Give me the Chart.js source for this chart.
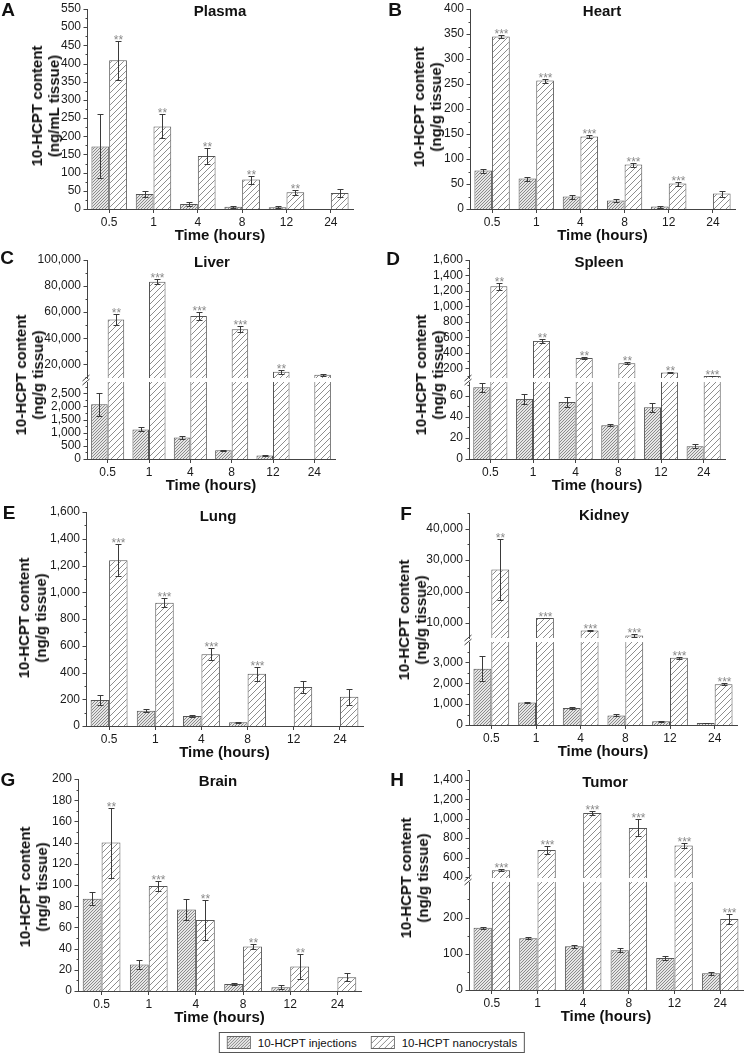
<!DOCTYPE html>
<html>
<head>
<meta charset="utf-8">
<script src="https://cdn.jsdelivr.net/npm/chart.js@4.4.1/dist/chart.umd.min.js"></script>
<style>
  html, body { margin: 0; padding: 0; background: #fff; }
  #fig { position: relative; width: 744px; height: 1057px; overflow: hidden;
         font-family: 'Liberation Sans', Arial, sans-serif; color: #111; }
  #fig canvas { position: absolute; }
  .letter { position: absolute; font-weight: bold; font-size: 19px; line-height: 1;
            transform: translate(-50%, -50%); }
  .ptitle { position: absolute; font-weight: bold; font-size: 15px; line-height: 1;
            white-space: nowrap; transform: translate(-50%, -50%); }
  .ytitle { position: absolute; font-weight: bold; font-size: 15px; line-height: 17px;
            text-align: center; white-space: nowrap;
            transform: translate(-50%, -50%) rotate(-90deg); }
  #legend { position: absolute; left: 372px; top: 1032px; transform: translateX(-50%);
            border: 1px solid #555; padding: 3px 7px; display: flex; align-items: center;
            font-size: 11.5px; white-space: nowrap; }
  #legend canvas { position: static; border: 1px solid #666; margin-right: 7px; }
  #legend .gap { width: 14px; }
</style>
</head>
<body>
<div id="fig">
  <div id="legend">
    <canvas id="sw1" width="22" height="11"></canvas>10-HCPT injections
    <span class="gap"></span>
    <canvas id="sw2" width="22" height="11"></canvas>10-HCPT nanocrystals
  </div>
</div>
<script>
const hours = ['0.5', '1', '4', '8', '12', '24'];

// A - plasma
const plasmaInj = [172, 41, 14, 6, 4.5, null];
const plasmaInjErr = [88, 8, 5, 2, 3, null];
const plasmaNano = [409, 227, 146, 81, 46, 44];
const plasmaNanoErr = [53, 33, 21, 11, 7, 11];
const plasmaStars = ['**', '**', '**', '**', '**', ''];

// B - heart
const heartInj = [77, 61, 25, 17, 5, null];
const heartInjErr = [4, 4, 4, 3, 2, null];
const heartNano = [345, 257, 145, 89, 51, 31];
const heartNanoErr = [3, 4, 3, 4, 4, 6];
const heartStars = ['***', '***', '***', '***', '***', ''];

// C - liver
const liverInj = [2080, 1125, 820, 335, 135, null];
const liverInjErr = [425, 75, 55, 25, 15, null];
const liverNano = [54400, 83300, 57000, 46800, 14300, 12000];
const liverNanoErr = [4300, 1800, 3100, 2300, 1700, 800];
const liverStars = ['**', '***', '***', '***', '**', ''];

// D - spleen
const spleenInj = [68, 57, 54, 32, 49, 12];
const spleenInjErr = [4.5, 4.5, 5, 1, 4, 2];
const spleenNano = [1260, 555, 333, 268, 148, 102];
const spleenNanoErr = [45, 25, 12, 12, 5, 4];
const spleenStars = ['**', '**', '**', '**', '**', '***'];

// E - lung
const lungInj = [195, 114, 75, 28, null, null];
const lungInjErr = [37, 13, 5, 5, null, null];
const lungNano = [1240, 922, 537, 390, 292, 218];
const lungNanoErr = [120, 32, 45, 50, 45, 58];
const lungStars = ['***', '***', '***', '***', '', ''];

// F - kidney
const kidneyInj = [2700, 1080, 820, 460, 180, 90];
const kidneyInjErr = [600, 40, 40, 50, 15, 10];
const kidneyNano = [27000, 11600, 7600, 6000, 3220, 1960];
const kidneyNanoErr = [9800, 150, 250, 600, 40, 60];
const kidneyStars = ['**', '***', '***', '***', '***', '***'];

// G - brain
const brainInj = [87, 25, 77, 6.6, 3.5, null];
const brainInjErr = [6, 4, 10, 1, 2, null];
const brainNano = [140, 99, 67, 42, 23, 13];
const brainNanoErr = [33, 4.5, 19, 2, 12, 4];
const brainStars = ['**', '***', '**', '**', '**', ''];

// H - tumor
const tumorInj = [172, 143, 121, 110, 88, 46];
const tumorInjErr = [3, 3, 4, 6, 6, 4];
const tumorNano = [470, 678, 1057, 905, 725, 196];
const tumorNanoErr = [8, 38, 17, 88, 25, 15];
const tumorStars = ['***', '***', '***', '***', '***', '***'];

const axisColor = '#444';
const fig = document.getElementById('fig');

Chart.defaults.font.family = "'Liberation Sans', Arial, sans-serif";
Chart.defaults.color = '#1a1a1a';

function hatch(size, bg, fg) {
  const c = document.createElement('canvas');
  c.width = c.height = size;
  const g = c.getContext('2d');
  g.fillStyle = bg;
  g.fillRect(0, 0, size, size);
  g.strokeStyle = fg;
  g.lineWidth = 1;
  g.beginPath();
  g.moveTo(0, size); g.lineTo(size, 0);
  g.moveTo(-size, size); g.lineTo(size, -size);
  g.moveTo(0, 2 * size); g.lineTo(2 * size, 0);
  g.stroke();
  return g.createPattern(c, 'repeat');
}
const injFill = hatch(3, '#e6e6e6', '#8a8a8a');
const nanoFill = hatch(6, '#ffffff', '#8e8e8e');

for (const [id, fill] of [['sw1', injFill], ['sw2', nanoFill]]) {
  const c = document.getElementById(id), g = c.getContext('2d');
  g.fillStyle = fill;
  g.fillRect(0, 0, c.width, c.height);
}

// error bars, significance stars, y ticks and axis-break marks
const barExtras = {
  id: 'barExtras',
  afterDatasetsDraw(chart, args, opts) {
    const ctx = chart.ctx, y = chart.scales.y, area = chart.chartArea;
    ctx.save();
    chart.data.datasets.forEach((ds, i) => {
      const meta = chart.getDatasetMeta(i);
      ds.data.forEach((v, j) => {
        if (v == null || v < y.min || v > y.max) return;
        const e = ds.errors[j] || 0;
        const x = Math.round(meta.data[j].x) + 0.5;
        const yHi = Math.round(Math.max(y.getPixelForValue(v + e), area.top)) + 0.5;
        const yLo = Math.round(Math.min(y.getPixelForValue(v - e), area.bottom)) + 0.5;
        ctx.strokeStyle = '#3a3a3a';
        ctx.lineWidth = 1;
        ctx.beginPath();
        ctx.moveTo(x, yHi); ctx.lineTo(x, yLo);
        ctx.moveTo(x - 3, yHi); ctx.lineTo(x + 3, yHi);
        ctx.moveTo(x - 3, yLo); ctx.lineTo(x + 3, yLo);
        ctx.stroke();
        if (ds.stars && ds.stars[j]) {
          ctx.fillStyle = '#8a8a8a';
          ctx.font = "12px 'Liberation Sans', Arial, sans-serif";
          ctx.textAlign = 'center';
          ctx.textBaseline = 'alphabetic';
          ctx.fillText(ds.stars[j], x, yHi + 2);
        }
      });
    });
    ctx.restore();
  },
  afterDraw(chart, args, opts) {
    const ctx = chart.ctx, y = chart.scales.y;
    const x0 = chart.chartArea.left + 0.5;
    ctx.save();
    ctx.strokeStyle = axisColor;
    ctx.lineWidth = 1;
    ctx.beginPath();
    y.ticks.forEach(t => {
      const len = t.value % opts.major === 0 ? 4 : 2;
      const py = Math.round(y.getPixelForValue(t.value)) + 0.5;
      ctx.moveTo(x0 - len, py); ctx.lineTo(x0, py);
    });
    if (opts.gap) {
      const t = chart.chartArea.top;
      [t, t - opts.gap].forEach(yy => {
        ctx.moveTo(x0 - 5, yy + 3); ctx.lineTo(x0 + 2, yy - 3);
      });
    }
    ctx.stroke();
    ctx.restore();
  }
};

const panels = [
  { letter: 'A', title: 'Plasma', unit: '(ng/mL tissue)',
    inj: plasmaInj, injErr: plasmaInjErr, nano: plasmaNano, nanoErr: plasmaNanoErr, stars: plasmaStars,
    col: 0, axisX: 87, plotW: 266, letterAt: [8, 9], titleAt: [220, 10], yTitleAt: [45, 106],
    sections: [{ top: 9, bottom: 209, min: 0, max: 550, major: 50 }] },
  { letter: 'B', title: 'Heart', unit: '(ng/g tissue)',
    inj: heartInj, injErr: heartInjErr, nano: heartNano, nanoErr: heartNanoErr, stars: heartStars,
    col: 1, axisX: 470, plotW: 265, letterAt: [395, 9], titleAt: [602, 10], yTitleAt: [427, 107],
    sections: [{ top: 9, bottom: 209, min: 0, max: 400, major: 50 }] },
  { letter: 'C', title: 'Liver', unit: '(ng/g tissue)',
    inj: liverInj, injErr: liverInjErr, nano: liverNano, nanoErr: liverNanoErr, stars: liverStars,
    col: 0, axisX: 87, plotW: 248, letterAt: [7, 257], titleAt: [212, 261], yTitleAt: [29, 375],
    sections: [{ top: 260, bottom: 378, min: 9500, max: 100000, major: 20000 },
               { top: 382, bottom: 459, min: 0, max: 2930, major: 500 }] },
  { letter: 'D', title: 'Spleen', unit: '(ng/g tissue)',
    inj: spleenInj, injErr: spleenInjErr, nano: spleenNano, nanoErr: spleenNanoErr, stars: spleenStars,
    col: 1, axisX: 469, plotW: 256, letterAt: [393, 258], titleAt: [599, 261], yTitleAt: [429, 375],
    sections: [{ top: 260, bottom: 378, min: 76, max: 1600, major: 200 },
               { top: 382, bottom: 459, min: 0, max: 73, major: 20 }] },
  { letter: 'E', title: 'Lung', unit: '(ng/g tissue)',
    inj: lungInj, injErr: lungInjErr, nano: lungNano, nanoErr: lungNanoErr, stars: lungStars,
    col: 0, axisX: 86, plotW: 277, letterAt: [9, 512], titleAt: [218, 515], yTitleAt: [32, 618],
    sections: [{ top: 512, bottom: 726, min: 0, max: 1600, major: 200 }] },
  { letter: 'F', title: 'Kidney', unit: '(ng/g tissue)',
    inj: kidneyInj, injErr: kidneyInjErr, nano: kidneyNano, nanoErr: kidneyNanoErr, stars: kidneyStars,
    col: 1, axisX: 469, plotW: 268, letterAt: [406, 513], titleAt: [604, 514], yTitleAt: [412, 620],
    sections: [{ top: 513, bottom: 638, min: 5230, max: 45000, major: 10000 },
               { top: 642, bottom: 725, min: 0, max: 3980, major: 1000 }] },
  { letter: 'G', title: 'Brain', unit: '(ng/g tissue)',
    inj: brainInj, injErr: brainInjErr, nano: brainNano, nanoErr: brainNanoErr, stars: brainStars,
    col: 0, axisX: 78, plotW: 283, letterAt: [8, 779], titleAt: [218, 780], yTitleAt: [33, 887],
    sections: [{ top: 779, bottom: 991, min: 0, max: 200, major: 20 }] },
  { letter: 'H', title: 'Tumor', unit: '(ng/g tissue)',
    inj: tumorInj, injErr: tumorInjErr, nano: tumorNano, nanoErr: tumorNanoErr, stars: tumorStars,
    col: 1, axisX: 469, plotW: 274, letterAt: [397, 779], titleAt: [605, 781], yTitleAt: [414, 878],
    sections: [{ top: 770, bottom: 878, min: 390, max: 1500, major: 200 },
               { top: 882, bottom: 990, min: 0, max: 298, major: 100 }] }
];

function addText(cls, text, at) {
  const d = document.createElement('div');
  d.className = cls;
  d.innerHTML = text;
  d.style.left = at[0] + 'px';
  d.style.top = at[1] + 'px';
  fig.appendChild(d);
}

function buildPanel(p) {
  const colLeft = p.col * 372, colW = 372;
  const yW = p.axisX - colLeft;
  const padRight = colW - yW - p.plotW;
  const xH = 36, padTop = 10;

  p.sections.forEach((s, k) => {
    const last = k === p.sections.length - 1;
    const padBot = last ? 0 : 10;
    const step = s.major / 2;
    const h = (s.bottom - s.top) + padTop + (last ? xH : padBot);
    const cv = document.createElement('canvas');
    cv.width = colW;
    cv.height = h;
    cv.style.left = colLeft + 'px';
    cv.style.top = (s.top - padTop) + 'px';
    fig.appendChild(cv);
    const gap = k > 0 ? s.top - p.sections[k - 1].bottom : 0;

    new Chart(cv, {
      type: 'bar',
      data: {
        labels: hours,
        datasets: [
          { label: '10-HCPT injections', data: p.inj, errors: p.injErr,
            backgroundColor: injFill, borderColor: '#555', borderWidth: 1,
            borderSkipped: 'start', clip: 0, categoryPercentage: 0.8, barPercentage: 1.0 },
          { label: '10-HCPT nanocrystals', data: p.nano, errors: p.nanoErr, stars: p.stars,
            backgroundColor: nanoFill, borderColor: '#555', borderWidth: 1,
            borderSkipped: 'start', clip: 0, categoryPercentage: 0.8, barPercentage: 1.0 }
        ]
      },
      options: {
        responsive: false,
        animation: false,
        devicePixelRatio: 1,
        layout: { padding: { top: padTop, bottom: padBot, left: 0, right: padRight } },
        plugins: {
          legend: { display: false },
          tooltip: { enabled: false },
          barExtras: { major: s.major, gap: gap }
        },
        scales: {
          x: {
            display: last,
            offset: true,
            grid: { display: true, offset: false, drawOnChartArea: false, tickLength: 4, color: axisColor },
            border: { color: axisColor },
            ticks: { font: { size: 12 }, padding: 2, color: '#1a1a1a', autoSkip: false },
            title: { display: true, text: 'Time (hours)', font: { size: 15, weight: 'bold' },
                     color: '#111', padding: 0 },
            afterFit: sc => { if (last) sc.height = xH; }
          },
          y: {
            min: s.min,
            max: s.max,
            grid: { display: false, drawTicks: true, tickLength: 4 },
            border: { display: true, color: axisColor },
            ticks: {
              autoSkip: false,
              padding: 2,
              color: '#1a1a1a',
              font: { size: 12 },
              callback: v => (v % s.major === 0 ? v.toLocaleString('en-US') : '')
            },
            // major + minor ticks on multiples of half the label step
            afterBuildTicks: sc => {
              const t = [];
              for (let n = Math.ceil(s.min / step); n * step <= s.max; n++) t.push({ value: n * step });
              sc.ticks = t;
            },
            afterFit: sc => { sc.width = yW; }
          }
        }
      },
      plugins: [barExtras]
    });
  });

  addText('letter', p.letter, p.letterAt);
  addText('ptitle', p.title, p.titleAt);
  addText('ytitle', '10-HCPT content<br>' + p.unit, p.yTitleAt);
}

panels.forEach(buildPanel);
</script>
</body>
</html>
